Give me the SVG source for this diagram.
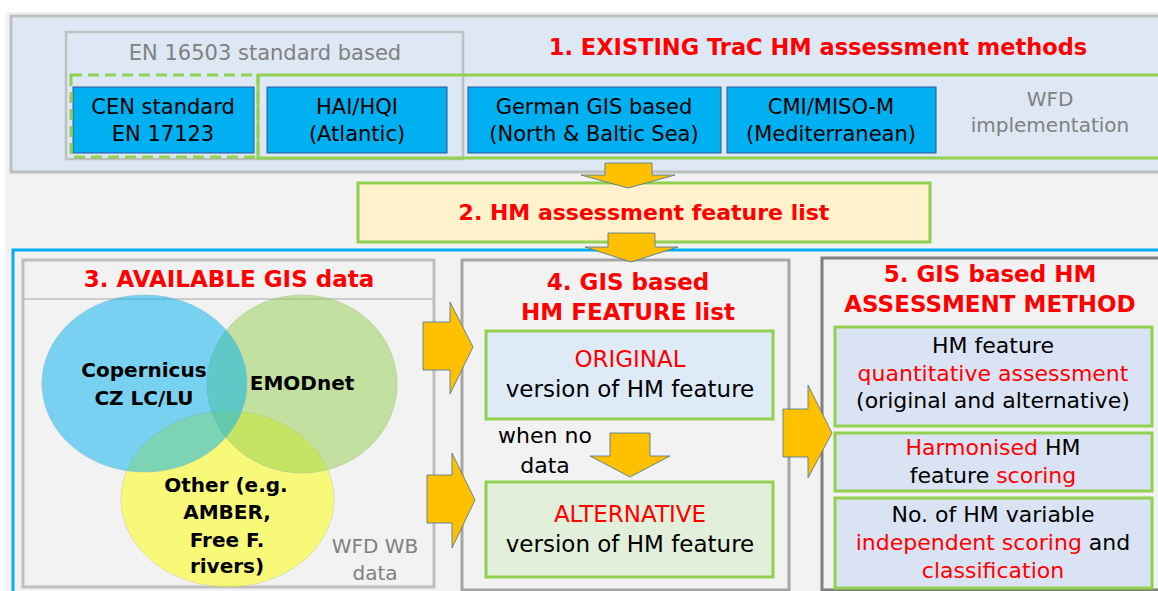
<svg xmlns="http://www.w3.org/2000/svg" width="1158" height="591" viewBox="0 0 1158 591">
<defs>
<style>
text{font-family:"DejaVu Sans","Liberation Sans",sans-serif;text-anchor:middle}
.ttl{font-weight:bold;fill:#ff0000;font-size:23px}
.ttl1{font-weight:bold;fill:#ff0000;font-size:22px}
.bxt{font-size:21px;fill:#000}
.gry{fill:#808080;font-size:20px}
.b4{font-size:23px;fill:#000}
.b5{font-size:22px;fill:#000}
.red{fill:#ff0000}
.venn{font-weight:bold;font-size:20px;fill:#000}
.bx{fill:#00b0f0;stroke:#2f5597;stroke-width:1}
.gb{stroke:#92d050;stroke-width:3}
.arw{fill:#ffc000;stroke:#41719c;stroke-width:0.8}
.pan{fill:none;stroke-width:3}
</style>
</defs>
<rect x="0" y="0" width="1158" height="591" fill="#ffffff"/>
<rect x="5" y="12" width="1153" height="579" fill="#f2f2f2"/>

<g id="panel1">
<rect x="11" y="16" width="1160" height="156" fill="#dee8f4" stroke="#bfbfbf" stroke-width="3"/>
<text class="ttl1" x="818" y="55" style="font-size:22.5px">1. EXISTING TraC HM assessment methods</text>
</g>
<g id="en16503">
<rect x="66" y="32" width="397" height="127" fill="none" stroke="#bfbfbf" stroke-width="2.5"/>
<text class="gry" x="265" y="60" style="font-size:21px">EN 16503 standard based</text>
</g>
<g id="wfd">
<rect x="258" y="75" width="910" height="83" fill="none" class="gb"/>
<text class="gry" x="1050" y="106">WFD</text>
<text class="gry" x="1050" y="132">implementation</text>
</g>
<g id="cen">
<rect x="73" y="87" width="181" height="66" class="bx"/>
<rect x="71" y="75" width="187" height="82" fill="none" class="gb" stroke-dasharray="11,6"/>
<text class="bxt" x="163" y="114">CEN standard</text>
<text class="bxt" x="163" y="141">EN 17123</text>
</g>
<g id="hai">
<rect x="267" y="87" width="180" height="66" class="bx"/>
<text class="bxt" x="357" y="114">HAI/HQI</text>
<text class="bxt" x="357" y="141">(Atlantic)</text>
</g>
<g id="german">
<rect x="468" y="87" width="253" height="66" class="bx"/>
<text class="bxt" x="594" y="114">German GIS based</text>
<text class="bxt" x="594" y="141">(North &amp; Baltic Sea)</text>
</g>
<g id="cmi">
<rect x="727" y="87" width="209" height="66" class="bx"/>
<text class="bxt" x="831" y="114">CMI/MISO-M</text>
<text class="bxt" x="831" y="141">(Mediterranean)</text>
</g>

<g id="featurelist">
<rect x="358" y="183" width="572" height="59" fill="#fff2cc" class="gb"/>
<text class="ttl1" x="644" y="220">2. HM assessment feature list</text>
</g>

<rect x="13" y="250" width="1160" height="360" class="pan" stroke="#00b0f0"/>

<g id="panel3">
<rect x="23" y="260" width="411" height="327" class="pan" stroke="#bfbfbf"/>
<line x1="23" y1="299" x2="434" y2="299" stroke="#bfbfbf" stroke-width="1.5"/>
<text class="ttl" x="229" y="287">3. AVAILABLE GIS data</text>
<ellipse cx="227.5" cy="499" rx="106.5" ry="88" fill="#ffff00" fill-opacity="0.5" stroke="#d0d0a0" stroke-width="0.6"/>
<ellipse cx="302" cy="384" rx="95" ry="89" fill="#92d050" fill-opacity="0.5" stroke="#a8c890" stroke-width="0.6"/>
<ellipse cx="144.5" cy="383.5" rx="102.5" ry="88.5" fill="#00b0f0" fill-opacity="0.5" stroke="#80b8d0" stroke-width="0.6"/>
<text class="venn" x="144" y="377">Copernicus</text>
<text class="venn" x="144" y="405">CZ LC/LU</text>
<text class="venn" x="302" y="390">EMODnet</text>
<text class="venn" x="226" y="492">Other (e.g.</text>
<text class="venn" x="227" y="519">AMBER,</text>
<text class="venn" x="227" y="547">Free F.</text>
<text class="venn" x="227" y="573">rivers)</text>
<text class="gry" x="375" y="553">WFD WB</text>
<text class="gry" x="375" y="580">data</text>
</g>

<g id="panel4">
<rect x="462" y="260" width="327" height="330" class="pan" stroke="#a6a6a6"/>
<text class="ttl" x="628" y="290">4. GIS based</text>
<text class="ttl" x="628" y="320">HM FEATURE list</text>
</g>
<g id="original">
<rect x="486" y="331" width="287" height="88" fill="#deebf7" class="gb"/>
<text class="b4 red" x="630" y="367">ORIGINAL</text>
<text class="b4" x="630" y="397">version of HM feature</text>
</g>
<g id="alternative">
<rect x="486" y="482" width="287" height="95" fill="#e2efda" class="gb"/>
<text class="b4 red" x="630" y="522">ALTERNATIVE</text>
<text class="b4" x="630" y="552">version of HM feature</text>
</g>
<g id="whennodata">
<text class="b4" x="545" y="443" style="font-size:22px">when no</text>
<text class="b4" x="545" y="473" style="font-size:22px">data</text>
</g>

<g id="panel5">
<rect x="822" y="258" width="350" height="332" class="pan" stroke="#7f7f7f"/>
<text class="ttl" x="990" y="282">5. GIS based HM</text>
<text class="ttl" x="990" y="312">ASSESSMENT METHOD</text>
</g>
<g id="quant">
<rect x="835" y="327" width="317" height="99" fill="#dae3f3" class="gb"/>
<text class="b5" x="993" y="353">HM feature</text>
<text class="b5 red" x="993" y="381">quantitative assessment</text>
<text class="b5" x="993" y="408">(original and alternative)</text>
</g>
<g id="harmonised">
<rect x="835" y="433" width="317" height="58" fill="#dae3f3" class="gb"/>
<text class="b5" x="993" y="455"><tspan class="red">Harmonised</tspan> HM</text>
<text class="b5" x="993" y="483">feature <tspan class="red">scoring</tspan></text>
</g>
<g id="independent">
<rect x="835" y="498" width="317" height="90" fill="#dae3f3" class="gb"/>
<text class="b5" x="993" y="522">No. of HM variable</text>
<text class="b5" x="993" y="550"><tspan class="red">independent scoring</tspan> and</text>
<text class="b5 red" x="993" y="578">classification</text>
</g>

<g id="connectors">
<polygon class="arw" points="605,163 652,163 652,175 675,175 628,188 581,175 605,175"/>
<polygon class="arw" points="608,233 655,233 655,247 678,247 631,262 585,247 608,247"/>
<polygon class="arw" points="423,322 450,322 450,302 473,347 450,394 450,370 423,370"/>
<polygon class="arw" points="427,475 452,475 452,453 475,500 452,548 452,523 427,523"/>
<polygon class="arw" points="783,409 808,409 808,385 832,433 808,478 808,457 783,457"/>
<polygon class="arw" points="610,433 650,433 650,456 670,456 630,477 590,456 610,456"/>
</g>
</svg>
